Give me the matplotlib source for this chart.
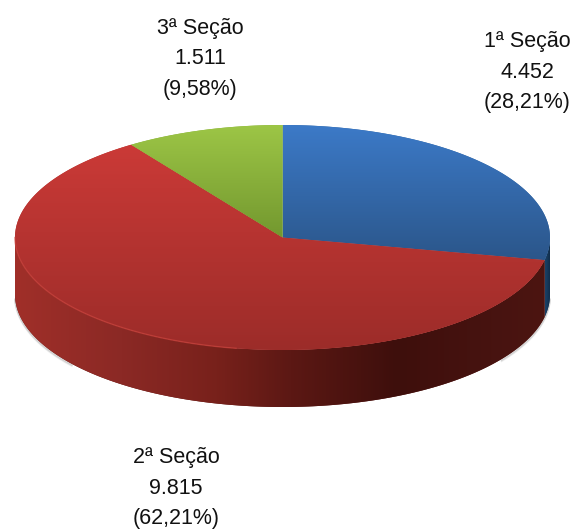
import matplotlib
matplotlib.use("Agg")
import matplotlib.pyplot as plt
import numpy as np
from matplotlib.colors import LinearSegmentedColormap
from matplotlib.patches import Polygon

sections = ["1ª Seção", "2ª Seção", "3ª Seção"]
votes = [4452, 9815, 1511]
vote_labels = ["4.452", "9.815", "1.511"]
pct_labels = ["(28,21%)", "(62,21%)", "(9,58%)"]

plt.rcParams["font.family"] = ["Liberation Sans", "DejaVu Sans"]

# pie geometry in pixels
cx, cy = 282.5, 237.5
rx, ry = 267.5, 112.5
depth = 57

top_colors = [("#3c7ac8", "#2b568a"), ("#cb3a37", "#9c2c29"), ("#9dc646", "#73982f")]
seam_colors = ["#33669f", "#b0322e", "#85ad3a"]
label_pos = [(527, 72), (176, 488), (200, 59)]


def rim(t0, t1, dy=0.0, n=200):
    t = np.radians(np.linspace(t0, t1, n))
    return np.column_stack([cx + rx * np.sin(t), cy - ry * np.cos(t) + dy])


def fill_gradient(ax, pts, stops, under, vertical=True, zorder=2):
    # flat polygon underneath hides the seams left by the clipped image
    ax.add_patch(Polygon(pts, closed=True, fc=under, ec="none", zorder=zorder - 0.5))
    cmap = LinearSegmentedColormap.from_list("g", stops)
    x0, x1 = pts[:, 0].min(), pts[:, 0].max()
    y0, y1 = pts[:, 1].min(), pts[:, 1].max()
    grad = np.linspace(0, 1, 256)
    grad = grad.reshape(-1, 1) if vertical else grad.reshape(1, -1)
    im = ax.imshow(grad, cmap=cmap, extent=(x0, x1, y1, y0), aspect="auto",
                   interpolation="bilinear", zorder=zorder)
    clip = Polygon(pts, closed=True, transform=ax.transData, fc="none", ec="none")
    ax.add_patch(clip)
    im.set_clip_path(clip)


fig = plt.figure(figsize=(5.76, 5.30), dpi=100)
ax = fig.add_axes([0, 0, 1, 1])

angles = np.cumsum([0] + votes) / sum(votes) * 360

# soft shadow at the two ends of the wall
for t0, t1 in [(92, 125), (232, 268)]:
    for off, alpha in [(2.0, 0.10), (1.0, 0.18)]:
        edge = rim(t0, t1, depth + off)
        ax.plot(edge[:, 0], edge[:, 1], color="#555555", alpha=alpha, lw=1.5, zorder=1)

# side wall, blue part then red part
blue_wall = np.vstack([rim(90, angles[1]), rim(angles[1], 90, depth)])
fill_gradient(ax, blue_wall, ["#1a4269", "#0f2a45"], "#14324f", vertical=False)
red_wall = np.vstack([rim(angles[1], 270), rim(270, angles[1], depth)])
fill_gradient(ax, red_wall, [(0.0, "#a02f29"), (0.2, "#8b2925"), (0.38, "#78211b"),
                             (0.52, "#5c1814"), (0.72, "#3e0f0c"), (0.9, "#471310"),
                             (1.0, "#4c1511")], "#5c1814", vertical=False)

# top faces
for i in range(len(votes)):
    face = np.vstack([[[cx, cy]], rim(angles[i], angles[i + 1])])
    fill_gradient(ax, face, top_colors[i], seam_colors[i], zorder=3)

# light rim along the front left edge
edge = rim(190, 270)
ax.plot(edge[:, 0], edge[:, 1], color="#c8423c", lw=1.0, alpha=0.7, zorder=4)

for i in range(len(sections)):
    ax.text(label_pos[i][0], label_pos[i][1],
            sections[i] + "\n" + vote_labels[i] + "\n" + pct_labels[i],
            ha="center", va="center", fontsize=15.5, linespacing=1.6,
            color="#111111", zorder=5)

ax.set_xlim(0, 576)
ax.set_ylim(530, 0)
ax.axis("off")
fig.savefig("out.png", dpi=100)
